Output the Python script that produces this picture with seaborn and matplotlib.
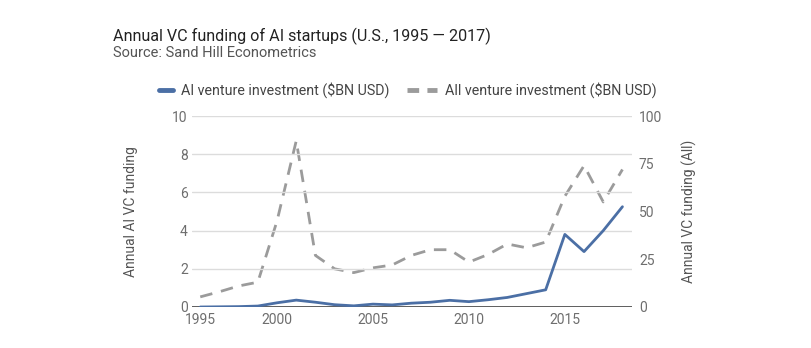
import matplotlib
matplotlib.use("Agg")
import matplotlib.pyplot as plt
import matplotlib.dates as mdates
from matplotlib.lines import Line2D
import seaborn as sns
import pandas as pd

# ---- data ----
years = list(range(1995, 2018))
ai_invest = [0.0, 0.01, 0.02, 0.05, 0.22, 0.36, 0.25, 0.12, 0.06, 0.15, 0.11,
             0.2, 0.25, 0.35, 0.28, 0.38, 0.5, 0.7, 0.9, 3.8, 2.9, 4.0, 5.25]
all_invest = [5.3, 8.0, 11.0, 13.0, 45.0, 87.0, 27.0, 20.0, 18.0, 20.5, 22.0,
              27.0, 30.0, 30.0, 23.5, 27.5, 33.0, 31.0, 34.0, 58.0, 74.0, 55.0, 72.0]
left_ticks = [0, 2, 4, 6, 8, 10]
right_ticks = [0, 25, 50, 75, 100]
x_label_years = [2000, 2005, 2010, 2015]
ai_label = "AI venture investment ($BN USD)"
all_label = "All venture investment ($BN USD)"

df = pd.DataFrame({
    "date": pd.to_datetime([f"{y}-12-31" for y in years]),
    "ai": ai_invest,
    "all": all_invest,
})

sns.set_theme(style="white")
plt.rcParams["font.family"] = ["Roboto", "DejaVu Sans"]

BLUE = "#4b6fa5"
GRAY = "#9b9b9b"
TICK = "#6e6e6e"

fig = plt.figure(figsize=(8.12, 3.48), dpi=100)
ax = fig.add_axes([192 / 812, 1 - 307 / 348, (632 - 192) / 812, (307 - 116) / 348])
ax2 = ax.twinx()

sns.lineplot(data=df, x="date", y="ai", ax=ax, color=BLUE, linewidth=2.0, zorder=5)
sns.lineplot(data=df, x="date", y="all", ax=ax2, color=GRAY, linewidth=2.0,
             dashes=False, zorder=4)
ax2.lines[0].set_dashes((4.5, 3.2))

ax.set_zorder(ax2.get_zorder() + 1)
ax.patch.set_visible(False)

ax.set_ylim(0, 10)
ax2.set_ylim(0, 100)
ax.set_xlim(pd.Timestamp("1995-07-27"), pd.Timestamp("2018-07-01"))

ax.set_yticks(left_ticks)
ax2.set_yticks(right_ticks)
ax.grid(axis="y", color="#dcdcdc", linewidth=1.0)
ax.grid(axis="x", visible=False)
ax2.grid(False)
ax.axhline(0, color="#444444", linewidth=1.2, zorder=3)

xt = [df["date"].iloc[0]] + [pd.Timestamp(f"{y}-01-01") for y in x_label_years]
ax.set_xticks(xt)
ax.xaxis.set_major_formatter(mdates.DateFormatter("%Y"))

for a in (ax, ax2):
    for s in a.spines.values():
        s.set_visible(False)
    a.tick_params(length=0, labelsize=10, labelcolor=TICK)
ax.tick_params(axis="x", pad=4)
ax.tick_params(axis="y", pad=3)
ax2.tick_params(axis="y", pad=5)

ax.set_xlabel("")
ax.set_ylabel("Annual AI VC funding", fontsize=10, color="#555555", labelpad=25)
ax2.set_ylabel("Annual VC funding (All)", fontsize=10, color="#555555",
               rotation=90, labelpad=14)

fig.text(113 / 812, 1 - 36 / 348, "Annual VC funding of AI startups (U.S., 1995 \u2014 2017)",
         fontsize=11.6, color="#222222", va="center", ha="left")
fig.text(113 / 812, 1 - 53 / 348, "Source: Sand Hill Econometrics",
         fontsize=10.5, color="#555555", va="center", ha="left")

h1 = Line2D([], [], color=BLUE, lw=3.5, solid_capstyle="round")
h2 = Line2D([], [], color=GRAY, lw=3.5, dashes=(2.4, 1.7))
fig.legend([h1], [ai_label], loc="center left", bbox_to_anchor=(159 / 812, 1 - 90 / 348),
           frameon=False, handlelength=1.0, handletextpad=0.55, borderpad=0,
           borderaxespad=0, fontsize=10.3, labelcolor="#444444")
fig.legend([h2], [all_label], loc="center left", bbox_to_anchor=(407 / 812, 1 - 90 / 348),
           frameon=False, handlelength=2.1, handletextpad=0.55, borderpad=0,
           borderaxespad=0, fontsize=10.3, labelcolor="#444444")

fig.savefig("out.png", dpi=100)
